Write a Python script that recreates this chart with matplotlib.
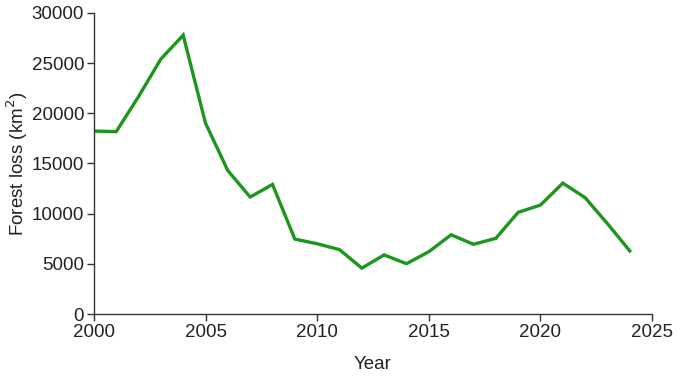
import matplotlib
matplotlib.use("Agg")
import matplotlib.pyplot as plt

years = list(range(2000, 2025))
loss = [18226, 18165, 21651, 25396, 27772, 19014, 14286, 11651, 12911, 7464,
        7000, 6418, 4571, 5891, 5012, 6207, 7893, 6947, 7536, 10129,
        10851, 13038, 11594, 9001, 6288]
xticks = [2000, 2005, 2010, 2015, 2020, 2025]
yticks = [0, 5000, 10000, 15000, 20000, 25000, 30000]

plt.rcParams['font.family'] = ['Liberation Sans', 'DejaVu Sans']
fig = plt.figure(figsize=(6.85, 3.77), dpi=100)
ax = fig.add_axes([0.137, 0.167, 0.815, 0.799])
ax.plot(years, loss, color='#1c961c', lw=2.4, solid_joinstyle='miter')
ax.set_xlim(2000, 2025)
ax.set_ylim(0, 30000)
ax.set_xticks(xticks)
ax.set_yticks(yticks)
for s in ['top', 'right']:
    ax.spines[s].set_visible(False)
for s in ['left', 'bottom']:
    ax.spines[s].set_color('#333333')
    ax.spines[s].set_linewidth(1.0)
ax.tick_params(direction='out', length=5, width=1, color='#333333',
               labelsize=13.5, labelcolor='#222222', pad=2)
ax.set_xlabel('Year', fontsize=13.5, color='#222222', labelpad=11)
ax.set_ylabel('Forest loss (km$^2$)', fontsize=13.5, color='#222222', labelpad=1)
fig.savefig('out.png', dpi=100)
